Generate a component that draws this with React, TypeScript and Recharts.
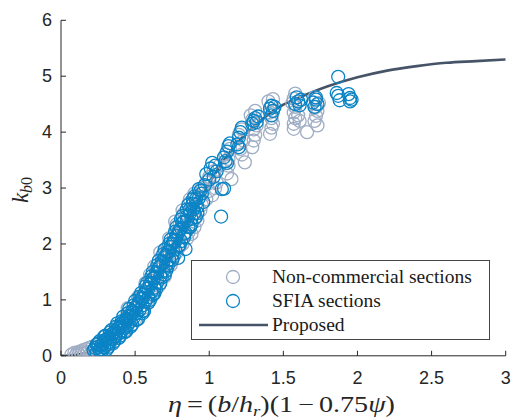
import React from 'react';
import { ComposedChart, Scatter, Line, XAxis, YAxis, Legend } from 'recharts';

const xTicks = [0, 0.5, 1, 1.5, 2, 2.5, 3];
const yTicks = [0, 1, 2, 3, 4, 5, 6];

const nonCommercial: [number, number][] = [
  [0.07, 0.02], [0.09, 0.05], [0.10, 0.01], [0.11, 0.06], [0.12, 0.03], [0.13, 0.08], [0.14, 0.04],
  [0.15, 0.10], [0.16, 0.05], [0.17, 0.12], [0.18, 0.07], [0.19, 0.14], [0.20, 0.04], [0.21, 0.16],
  [0.23, 0.10], [0.25, 0.20], [0.27, 0.08], [0.30, 0.35], [0.33, 0.20], [0.38, 0.52], [0.42, 0.42],
  [0.45, 0.85], [0.46, 0.78], [0.50, 0.65], [0.52, 1.05], [0.54, 1.05], [0.56, 0.86], [0.57, 1.30],
  [0.58, 0.95], [0.60, 1.35], [0.60, 1.45], [0.62, 1.08], [0.63, 1.60], [0.64, 1.55], [0.64, 1.20],
  [0.66, 1.25], [0.66, 1.70], [0.67, 1.85], [0.68, 1.78], [0.70, 1.42], [0.70, 1.50], [0.70, 1.90],
  [0.72, 1.95], [0.73, 2.10], [0.74, 1.62], [0.75, 1.70], [0.76, 2.15], [0.77, 2.40], [0.78, 1.85],
  [0.78, 2.35], [0.80, 2.35], [0.80, 1.95], [0.82, 2.00], [0.82, 2.60], [0.83, 2.55], [0.84, 2.52],
  [0.85, 2.10], [0.86, 2.20], [0.86, 2.72], [0.87, 2.80], [0.88, 2.18], [0.88, 2.68], [0.90, 2.45],
  [0.90, 2.30], [0.90, 2.90], [0.92, 2.42], [0.92, 2.85], [0.94, 2.60], [0.95, 2.70], [0.95, 3.00],
  [0.96, 2.95], [0.98, 2.80], [0.98, 3.10], [1.00, 3.20], [1.00, 2.95], [1.02, 2.87], [1.03, 3.30],
  [1.04, 3.00], [1.05, 3.10], [1.07, 3.40], [1.12, 3.26], [1.13, 3.40], [1.11, 3.60], [1.15, 3.16],
  [1.14, 3.70], [1.13, 3.52], [1.22, 3.60], [1.21, 3.70], [1.20, 3.95], [1.23, 3.85], [1.24, 3.46],
  [1.22, 4.05], [1.29, 3.73], [1.30, 3.85], [1.31, 3.95], [1.30, 4.05], [1.28, 4.30], [1.31, 4.38],
  [1.32, 4.12], [1.29, 4.22], [1.41, 3.97], [1.42, 4.08], [1.43, 4.15], [1.42, 4.25], [1.40, 4.55],
  [1.43, 4.59], [1.41, 4.35], [1.42, 4.48], [1.57, 4.06], [1.57, 4.15], [1.58, 4.25], [1.57, 4.35],
  [1.58, 4.45], [1.57, 4.60], [1.58, 4.69], [1.60, 4.30], [1.61, 4.20], [1.56, 4.52], [1.66, 4.00],
  [1.71, 4.20], [1.72, 4.29], [1.73, 4.38], [1.72, 4.45], [1.71, 4.62], [1.74, 4.52], [1.73, 4.12],
];

const sfia: [number, number][] = [
  [0.22, 0.10], [0.23, 0.14], [0.24, 0.06], [0.24, 0.20], [0.25, 0.16], [0.25, 0.22], [0.26, 0.26],
  [0.26, 0.10], [0.27, 0.12], [0.27, 0.18], [0.28, 0.22], [0.28, 0.10], [0.29, 0.15], [0.29, 0.26],
  [0.29, 0.34], [0.30, 0.28], [0.30, 0.36], [0.31, 0.20], [0.31, 0.30], [0.31, 0.12], [0.32, 0.32],
  [0.32, 0.16], [0.33, 0.25], [0.33, 0.30], [0.33, 0.42], [0.34, 0.38], [0.34, 0.46], [0.35, 0.30],
  [0.35, 0.40], [0.35, 0.22], [0.36, 0.42], [0.36, 0.26], [0.37, 0.35], [0.37, 0.40], [0.37, 0.52],
  [0.38, 0.48], [0.38, 0.58], [0.39, 0.40], [0.39, 0.50], [0.39, 0.32], [0.40, 0.55], [0.40, 0.36],
  [0.41, 0.45], [0.41, 0.52], [0.41, 0.62], [0.42, 0.60], [0.42, 0.70], [0.43, 0.50], [0.43, 0.58],
  [0.43, 0.42], [0.44, 0.66], [0.44, 0.44], [0.45, 0.55], [0.45, 0.64], [0.45, 0.76], [0.46, 0.72],
  [0.46, 0.84], [0.47, 0.62], [0.47, 0.70], [0.47, 0.52], [0.48, 0.80], [0.48, 0.56], [0.49, 0.68],
  [0.49, 0.78], [0.49, 0.90], [0.50, 0.86], [0.50, 0.98], [0.51, 0.76], [0.51, 0.88], [0.51, 0.64],
  [0.52, 0.92], [0.52, 0.66], [0.53, 0.82], [0.53, 0.96], [0.53, 1.06], [0.54, 1.02], [0.54, 1.12],
  [0.55, 0.90], [0.55, 0.80], [0.55, 1.02], [0.55, 0.76], [0.56, 1.10], [0.56, 0.80], [0.57, 0.98],
  [0.57, 1.14], [0.57, 1.24], [0.58, 1.20], [0.58, 1.30], [0.59, 1.05], [0.59, 1.20], [0.59, 0.95],
  [0.60, 1.28], [0.60, 1.00], [0.61, 1.15], [0.61, 1.30], [0.61, 1.42], [0.62, 1.38], [0.62, 1.50],
  [0.62, 1.10], [0.63, 1.22], [0.63, 1.40], [0.63, 1.12], [0.64, 1.48], [0.64, 1.18], [0.65, 1.32],
  [0.65, 1.48], [0.65, 1.62], [0.66, 1.58], [0.66, 1.70], [0.67, 1.42], [0.67, 1.60], [0.67, 1.30],
  [0.68, 1.68], [0.68, 1.40], [0.69, 1.52], [0.69, 1.66], [0.69, 1.82], [0.70, 1.76], [0.70, 1.90],
  [0.70, 1.45], [0.71, 1.62], [0.71, 1.80], [0.71, 1.52], [0.72, 1.85], [0.72, 1.60], [0.73, 1.72],
  [0.73, 1.86], [0.73, 2.00], [0.74, 1.95], [0.74, 2.08], [0.75, 1.80], [0.75, 2.00], [0.75, 1.72],
  [0.76, 2.05], [0.76, 1.78], [0.77, 1.90], [0.77, 2.06], [0.77, 2.22], [0.78, 2.15], [0.78, 2.30],
  [0.79, 1.75], [0.79, 2.20], [0.79, 1.95], [0.80, 2.25], [0.80, 1.98], [0.81, 2.05], [0.81, 2.28],
  [0.81, 2.44], [0.82, 2.38], [0.82, 2.50], [0.83, 2.18], [0.83, 2.40], [0.83, 2.12], [0.84, 1.91],
  [0.84, 2.20], [0.85, 2.50], [0.85, 2.42], [0.85, 2.62], [0.86, 2.30], [0.86, 2.70], [0.87, 2.62],
  [0.87, 2.55], [0.87, 2.30], [0.88, 2.45], [0.88, 2.35], [0.89, 2.72], [0.89, 2.62], [0.89, 2.80],
  [0.90, 2.55], [0.90, 2.85], [0.91, 2.80], [0.91, 2.70], [0.91, 2.48], [0.92, 2.66], [0.92, 2.55],
  [0.93, 2.82], [0.93, 2.98], [0.94, 2.95], [0.95, 2.90], [0.96, 2.75], [0.97, 3.05], [0.98, 3.25],
  [1.00, 3.15], [1.01, 3.35], [1.02, 3.45], [1.03, 3.20], [1.04, 3.40], [1.05, 3.30], [1.085, 2.98],
  [1.10, 2.99], [1.08, 2.49], [1.10, 3.55], [1.12, 3.65], [1.13, 3.75], [1.11, 3.48], [1.14, 3.80],
  [1.12, 3.45], [1.19, 3.78], [1.20, 3.90], [1.21, 4.00], [1.22, 4.08], [1.20, 3.73], [1.29, 4.15],
  [1.30, 4.20], [1.31, 4.25], [1.32, 4.18], [1.33, 4.28], [1.41, 4.42], [1.42, 4.47], [1.43, 4.38],
  [1.42, 4.30], [1.44, 4.45], [1.58, 4.50], [1.60, 4.55], [1.61, 4.48], [1.62, 4.58], [1.59, 4.62],
  [1.70, 4.53], [1.72, 4.58], [1.73, 4.50], [1.72, 4.62], [1.71, 4.45], [1.87, 4.99], [1.87, 4.65],
  [1.88, 4.57], [1.86, 4.70], [1.95, 4.61], [1.95, 4.55], [1.94, 4.68], [1.96, 4.58],
];

const proposed: [number, number][] = [
  [0, 0], [0.1, 0.02], [0.2, 0.08], [0.3, 0.24], [0.4, 0.45], [0.5, 0.74], [0.6, 1.15], [0.7, 1.6],
  [0.8, 2.08], [0.9, 2.6], [1.0, 3.08], [1.1, 3.5], [1.2, 3.84], [1.3, 4.1], [1.4, 4.32], [1.5, 4.49],
  [1.6, 4.61], [1.8, 4.82], [2.0, 4.98], [2.2, 5.1], [2.4, 5.18], [2.6, 5.24], [2.8, 5.27], [3.0, 5.3],
];

const GRAY = '#9fadc4';
const BLUE = '#0b84c6';
const LINE = '#475467';
const AXIS = '#262626';

const toRows = (arr: [number, number][]) => arr.map(([x, y]) => ({ x, y }));

const Ring = (color: string) => (props: any) => (
  <circle cx={props.cx} cy={props.cy} r={6.5} fill="none" stroke={color} strokeWidth={1.3} />
);

const XTick = (props: any) => {
  const { x, y, payload } = props;
  const axisY = y - 14;
  return (
    <g>
      <line x1={x} x2={x} y1={axisY} y2={axisY - 5} stroke={AXIS} strokeWidth={1} />
      <text x={x} y={axisY + 22} textAnchor="middle" dominantBaseline="central"
        fontFamily="Liberation Sans, Arial, sans-serif" fontSize={18} fill={AXIS}>
        {payload.value}
      </text>
    </g>
  );
};

const YTick = (props: any) => {
  const { x, y, payload } = props;
  const axisX = x + 9;
  return (
    <g>
      <line x1={axisX} x2={axisX + 5} y1={y} y2={y} stroke={AXIS} strokeWidth={1} />
      <text x={x} y={y} textAnchor="end" dominantBaseline="central"
        fontFamily="Liberation Sans, Arial, sans-serif" fontSize={18} fill={AXIS}>
        {payload.value}
      </text>
    </g>
  );
};

const serif = 'Liberation Serif, Times New Roman, serif';

const XLabel = () => (
  <text x={168} y={412} textAnchor="start" fontFamily={serif} fontSize={22.5} fill={AXIS}
    textLength={227} lengthAdjust="spacingAndGlyphs">
    <tspan fontStyle="italic">η</tspan>
    <tspan dx={4}>=</tspan>
    <tspan dx={4}>(</tspan>
    <tspan fontStyle="italic">b</tspan>
    <tspan>/</tspan>
    <tspan fontStyle="italic">h</tspan>
    <tspan fontStyle="italic" fontSize={15} dy={4}>r</tspan>
    <tspan dy={-4}>)(1</tspan>
    <tspan dx={4}>−</tspan>
    <tspan dx={4}>0.75</tspan>
    <tspan fontStyle="italic">ψ</tspan>
    <tspan>)</tspan>
  </text>
);

const YLabel = () => (
  <text x={0} y={0} transform="translate(28,190) rotate(-90)" textAnchor="middle"
    fontFamily={serif} fontSize={23} fill={AXIS}>
    <tspan fontStyle="italic">k</tspan>
    <tspan fontStyle="italic" fontSize={16} dy={4}>b</tspan>
    <tspan fontSize={16}>0</tspan>
  </text>
);

const legendItems = [
  { label: 'Non-commercial sections', kind: 'ring', color: GRAY },
  { label: 'SFIA sections', kind: 'ring', color: BLUE },
  { label: 'Proposed', kind: 'line', color: LINE },
];

const LegendBox = () => (
  <div style={{
    width: 297, height: 78, border: '1px solid #444', background: '#fff',
    position: 'relative', boxSizing: 'content-box',
  }}>
    {legendItems.map((it, i) => (
      <div key={it.label} style={{ position: 'absolute', left: 0, top: 4 + i * 24, height: 24, width: 297 }}>
        <svg width={80} height={24} style={{ position: 'absolute', left: 0, top: 0 }}>
          {it.kind === 'ring'
            ? <circle cx={41} cy={12} r={6.5} fill="none" stroke={it.color} strokeWidth={1.3} />
            : <line x1={7} x2={76} y1={12} y2={12} stroke={it.color} strokeWidth={2.5} />}
        </svg>
        <span style={{
          position: 'absolute', left: 80, top: 0, lineHeight: '24px', fontFamily: serif,
          fontSize: 19.5, color: '#1a1a1a', whiteSpace: 'nowrap',
        }}>{it.label}</span>
      </div>
    ))}
  </div>
);

export default function App() {
  return (
    <div style={{ position: 'absolute', left: 0, top: 0, width: 515, height: 419, background: '#fff' }}>
      <ComposedChart width={515} height={419}
        margin={{ top: 20.3, right: 9.3, bottom: 33.2, left: 11 }}>
        <XAxis type="number" dataKey="x" domain={[0, 3]} ticks={xTicks} allowDataOverflow
          axisLine={{ stroke: AXIS, strokeWidth: 1 }} tickLine={false} tickSize={0} tickMargin={14}
          height={30} tick={<XTick />} label={<XLabel />} />
        <YAxis type="number" dataKey="y" domain={[0, 6]} ticks={yTicks} allowDataOverflow
          axisLine={{ stroke: AXIS, strokeWidth: 1 }} tickLine={false} tickSize={0} tickMargin={9}
          width={50} tick={<YTick />} label={<YLabel />} />
        <Legend layout="horizontal" verticalAlign="middle" align="center"
          wrapperStyle={{ left: 191, top: 260, width: 299 }} content={() => <LegendBox />} />
        <Scatter name="Non-commercial sections" data={toRows(nonCommercial)} dataKey="y"
          shape={Ring(GRAY)} isAnimationActive={false} />
        <Scatter name="SFIA sections" data={toRows(sfia)} dataKey="y"
          shape={Ring(BLUE)} isAnimationActive={false} />
        <Line name="Proposed" data={toRows(proposed)} dataKey="y" type="monotone" dot={false}
          stroke={LINE} strokeWidth={2.6} isAnimationActive={false} />
      </ComposedChart>
    </div>
  );
}
